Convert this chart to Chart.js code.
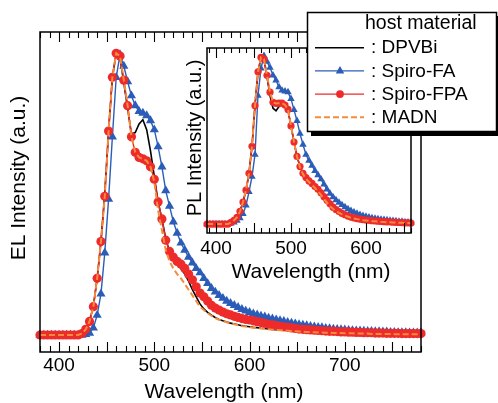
<!DOCTYPE html>
<html>
<head>
<meta charset="utf-8">
<script src="https://cdn.jsdelivr.net/npm/chart.js@4"></script>
<style>
html, body { margin: 0; padding: 0; background: #fff; overflow: hidden; }
#wrap { position: relative; width: 498px; height: 403px; }
canvas, svg { position: absolute; }
#main { left: 0; top: 0; }
#inset { left: 180px; top: 30px; }
#legend { left: 0; top: 0; font-family: "Liberation Sans", Arial, sans-serif; }
</style>
</head>
<body>
<div id="wrap">
  <canvas id="main" width="498" height="403"></canvas>
  <canvas id="inset" width="250" height="260"></canvas>
  <svg id="legend" width="498" height="403"></svg>
</div>
<script>
const hostNames = ['DPVBi', 'Spiro-FA', 'Spiro-FPA', 'MADN']
const elTickLabels = [400, 500, 600, 700]
const plTickLabels = [400, 500, 600]

// EL spectra (main plot)
const elWavelength = [
  380, 384, 388, 392, 396, 400, 404, 408, 412, 416,
  420, 424, 428, 432, 436, 440, 444, 448, 452, 456,
  460, 464, 468, 472, 476, 480, 484, 488, 492, 496,
  500, 504, 508, 512, 516, 520, 524, 528, 532, 536,
  540, 544, 548, 552, 556, 560, 564, 568, 572, 576,
  580, 584, 588, 592, 596, 600, 604, 608, 612, 616,
  620, 624, 628, 632, 636, 640, 644, 648, 652, 656,
  660, 664, 668, 672, 676, 680, 684, 688, 692, 696,
  700, 704, 708, 712, 716, 720, 724, 728, 732, 736,
  740, 744, 748, 752, 756, 760, 764, 768, 772, 776,
  780
]
const elDPVBi = [
  0, 0, 0, 0, 0, 0, 0, 0, 0, 0,
  0, 0.005, 0.02, 0.05, 0.10, 0.20, 0.33, 0.50, 0.72, 0.91,
  0.995, 0.98, 0.89, 0.80, 0.71, 0.715, 0.745, 0.76, 0.725, 0.65,
  0.56, 0.47, 0.41, 0.34, 0.295, 0.27, 0.25, 0.235, 0.215, 0.19,
  0.16, 0.135, 0.11, 0.092, 0.08, 0.07, 0.062, 0.055, 0.05, 0.046,
  0.042, 0.039, 0.036, 0.033, 0.031, 0.029, 0.027, 0.026, 0.024, 0.023,
  0.021, 0.02, 0.019, 0.018, 0.017, 0.016, 0.015, 0.014, 0.013, 0.012,
  0.012, 0.011, 0.01, 0.01, 0.009, 0.009, 0.008, 0.008, 0.007, 0.007,
  0.007, 0.006, 0.006, 0.006, 0.005, 0.005, 0.005, 0.005, 0.004, 0.004,
  0.004, 0.004, 0.004, 0.004, 0.003, 0.003, 0.003, 0.003, 0.003, 0.003,
  0.003
]
const elSpiroFA = [
  0, 0, 0, 0, 0, 0, 0, 0, 0, 0,
  0, 0, 0.002, 0.007, 0.025, 0.07, 0.145, 0.29, 0.48, 0.70,
  0.91, 0.99, 0.95, 0.895, 0.845, 0.81, 0.79, 0.784, 0.775, 0.757,
  0.725, 0.665, 0.594, 0.51, 0.455, 0.40, 0.36, 0.325, 0.30, 0.275,
  0.255, 0.235, 0.22, 0.20, 0.182, 0.165, 0.152, 0.14, 0.13, 0.12,
  0.112, 0.105, 0.098, 0.091, 0.085, 0.08, 0.075, 0.071, 0.067, 0.064,
  0.06, 0.057, 0.054, 0.051, 0.048, 0.045, 0.042, 0.04, 0.037, 0.035,
  0.033, 0.031, 0.029, 0.027, 0.026, 0.024, 0.023, 0.021, 0.02, 0.019,
  0.018, 0.017, 0.016, 0.015, 0.015, 0.014, 0.013, 0.013, 0.012, 0.012,
  0.011, 0.011, 0.01, 0.01, 0.009, 0.009, 0.009, 0.008, 0.008, 0.008,
  0.008
]
const elSpiroFPA = [
  0, 0, 0, 0, 0, 0, 0, 0, 0, 0,
  0, 0.005, 0.02, 0.048, 0.10, 0.20, 0.33, 0.49, 0.72, 0.91,
  0.995, 0.985, 0.90, 0.81, 0.70, 0.645, 0.627, 0.622, 0.615, 0.594,
  0.55, 0.47, 0.41, 0.335, 0.295, 0.275, 0.26, 0.25, 0.235, 0.215,
  0.195, 0.17, 0.148, 0.135, 0.12, 0.105, 0.095, 0.088, 0.081, 0.075,
  0.071, 0.066, 0.062, 0.058, 0.055, 0.053, 0.05, 0.047, 0.044, 0.041,
  0.038, 0.036, 0.033, 0.031, 0.029, 0.027, 0.025, 0.023, 0.021, 0.02,
  0.019, 0.018, 0.017, 0.016, 0.015, 0.014, 0.013, 0.013, 0.012, 0.011,
  0.011, 0.01, 0.01, 0.009, 0.009, 0.008, 0.008, 0.008, 0.007, 0.007,
  0.007, 0.006, 0.006, 0.006, 0.006, 0.005, 0.005, 0.005, 0.005, 0.005,
  0.005
]
const elMADN = [
  0, 0, 0, 0, 0, 0, 0, 0, 0, 0,
  0, 0.005, 0.02, 0.048, 0.10, 0.20, 0.33, 0.49, 0.72, 0.91,
  0.995, 0.985, 0.90, 0.81, 0.70, 0.645, 0.627, 0.622, 0.615, 0.594,
  0.54, 0.44, 0.37, 0.30, 0.26, 0.235, 0.215, 0.20, 0.18, 0.16,
  0.14, 0.12, 0.10, 0.088, 0.077, 0.068, 0.06, 0.054, 0.049, 0.045,
  0.041, 0.038, 0.035, 0.032, 0.03, 0.028, 0.026, 0.025, 0.023, 0.022,
  0.02, 0.019, 0.018, 0.017, 0.016, 0.015, 0.014, 0.013, 0.012, 0.012,
  0.011, 0.01, 0.01, 0.009, 0.009, 0.008, 0.008, 0.007, 0.007, 0.007,
  0.006, 0.006, 0.006, 0.005, 0.005, 0.005, 0.005, 0.004, 0.004, 0.004,
  0.004, 0.004, 0.004, 0.003, 0.003, 0.003, 0.003, 0.003, 0.003, 0.003,
  0.003
]

// PL spectra (inset)
const plWavelength = [
  388, 392, 396, 400, 404, 408, 412, 416, 420, 424,
  428, 432, 436, 440, 444, 448, 452, 456, 460, 464,
  468, 472, 476, 480, 484, 488, 492, 496, 500, 504,
  508, 512, 516, 520, 524, 528, 532, 536, 540, 544,
  548, 552, 556, 560, 564, 568, 572, 576, 580, 584,
  588, 592, 596, 600, 604, 608, 612, 616, 620, 624,
  628, 632, 636, 640, 644, 648, 652, 656, 660
]
const plDPVBi = [
  0, 0, 0, 0, 0, 0, 0, 0, 0.01, 0.022,
  0.04, 0.075, 0.13, 0.20, 0.30, 0.46, 0.70, 0.90, 0.985, 0.975,
  0.87, 0.76, 0.685, 0.67, 0.695, 0.712, 0.70, 0.67, 0.58, 0.485,
  0.40, 0.34, 0.30, 0.272, 0.25, 0.235, 0.217, 0.198, 0.178, 0.155,
  0.132, 0.112, 0.095, 0.081, 0.07, 0.06, 0.052, 0.045, 0.039, 0.034,
  0.03, 0.027, 0.024, 0.022, 0.02, 0.018, 0.016, 0.015, 0.013, 0.012,
  0.011, 0.01, 0.009, 0.009, 0.008, 0.007, 0.006, 0.006, 0.005
]
const plSpiroFA = [
  0, 0, 0, 0, 0, 0, 0, 0, 0.004, 0.01,
  0.02, 0.035, 0.06, 0.11, 0.19, 0.28, 0.41, 0.76, 0.92, 0.995,
  0.96, 0.925, 0.88, 0.85, 0.81, 0.79, 0.785, 0.78, 0.74, 0.675,
  0.61, 0.535, 0.47, 0.41, 0.375, 0.345, 0.315, 0.29, 0.265, 0.235,
  0.205, 0.18, 0.16, 0.142, 0.127, 0.113, 0.10, 0.088, 0.078, 0.07,
  0.062, 0.055, 0.049, 0.044, 0.04, 0.036, 0.033, 0.03, 0.027, 0.025,
  0.023, 0.021, 0.019, 0.017, 0.015, 0.014, 0.012, 0.011, 0.01
]
const plSpiroFPA = [
  0, 0, 0, 0, 0, 0, 0, 0, 0.01, 0.022,
  0.04, 0.075, 0.13, 0.20, 0.30, 0.46, 0.70, 0.90, 0.985, 0.975,
  0.88, 0.78, 0.72, 0.713, 0.715, 0.715, 0.704, 0.678, 0.58, 0.485,
  0.40, 0.34, 0.30, 0.275, 0.255, 0.24, 0.222, 0.205, 0.185, 0.162,
  0.14, 0.12, 0.10, 0.086, 0.074, 0.063, 0.055, 0.047, 0.041, 0.036,
  0.032, 0.029, 0.026, 0.024, 0.022, 0.02, 0.018, 0.017, 0.015, 0.014,
  0.013, 0.012, 0.011, 0.01, 0.009, 0.008, 0.007, 0.007, 0.006
]
const plMADN = [
  0, 0, 0, 0, 0, 0, 0, 0, 0.01, 0.022,
  0.04, 0.075, 0.13, 0.20, 0.30, 0.46, 0.70, 0.90, 0.985, 0.975,
  0.88, 0.78, 0.72, 0.713, 0.715, 0.715, 0.704, 0.678, 0.58, 0.485,
  0.40, 0.335, 0.295, 0.268, 0.248, 0.232, 0.213, 0.193, 0.172, 0.148,
  0.126, 0.106, 0.09, 0.077, 0.066, 0.057, 0.049, 0.043, 0.037, 0.033,
  0.029, 0.026, 0.023, 0.021, 0.019, 0.017, 0.016, 0.015, 0.013, 0.012,
  0.011, 0.01, 0.009, 0.009, 0.008, 0.007, 0.006, 0.006, 0.005
]

const colors = ['#000000', '#2b5cb8', '#ee2b2b', '#f58c3c']
const fontFamily = '"Liberation Sans", Arial, sans-serif'

function pts(xs, ys) {
  return xs.map((x, i) => ({ x: x, y: ys[i] }))
}

function makeSets(xs, series, r) {
  return [
    { label: hostNames[0], data: pts(xs, series[0]), borderColor: colors[0], borderWidth: 1.6, pointRadius: 0, order: 2 },
    { label: hostNames[1], data: pts(xs, series[1]), borderColor: colors[1], backgroundColor: colors[1], borderWidth: 1.4,
      pointStyle: 'triangle', pointRadius: r + 0.7, pointBorderWidth: 0, order: 3 },
    { label: hostNames[2], data: pts(xs, series[2]), borderColor: colors[2], backgroundColor: colors[2], borderWidth: 1.4,
      pointStyle: 'circle', pointRadius: r, pointBorderWidth: 0, order: 1 },
    { label: hostNames[3], data: pts(xs, series[3]), borderColor: colors[3], borderWidth: 2, borderDash: [6, 3],
      pointRadius: 0, order: 0 }
  ].map(d => Object.assign(d, { clip: 6 }))
}

// frame, inward ticks and axis titles
const framePlugin = {
  id: 'frame',
  beforeDraw(chart) {
    const { ctx, chartArea: a } = chart
    ctx.save()
    ctx.fillStyle = '#fff'
    ctx.fillRect(a.left, a.top, a.right - a.left, a.bottom - a.top)
    ctx.restore()
  },
  afterDraw(chart, args, o) {
    const { ctx, chartArea: a } = chart
    const x = chart.scales.x
    ctx.save()
    ctx.strokeStyle = '#000'
    ctx.lineWidth = 1.5
    ctx.strokeRect(a.left, a.top, a.right - a.left, a.bottom - a.top)
    ctx.lineWidth = 1.1
    ctx.beginPath()
    for (let v = o.from; v <= o.to; v += 10) {
      const px = Math.round(x.getPixelForValue(v)) + 0.5
      const len = v % 50 === 0 ? o.major : o.minor
      ctx.moveTo(px, a.bottom); ctx.lineTo(px, a.bottom - len)
      ctx.moveTo(px, a.top); ctx.lineTo(px, a.top + len)
    }
    ctx.stroke()
    ctx.fillStyle = '#000'
    ctx.textAlign = 'center'
    ctx.textBaseline = 'middle'
    ctx.font = o.xSize + 'px ' + fontFamily
    ctx.fillText(o.xText, o.xPos[0], o.xPos[1])
    ctx.translate(o.yPos[0], o.yPos[1])
    ctx.rotate(-Math.PI / 2)
    ctx.font = o.ySize + 'px ' + fontFamily
    ctx.fillText(o.yText, 0, 0)
    ctx.restore()
  }
}

function axisX(min, max, labels, height, pad) {
  return {
    type: 'linear', min: min, max: max,
    afterBuildTicks: s => { s.ticks = labels.map(v => ({ value: v })) },
    afterFit: s => { s.height = height },
    ticks: { color: '#000', font: { family: fontFamily, size: 19 }, padding: pad, maxRotation: 0, autoSkip: false },
    grid: { display: false, drawTicks: false },
    border: { display: false }
  }
}

new Chart(document.getElementById('main'), {
  type: 'line',
  data: { datasets: makeSets(elWavelength, [elDPVBi, elSpiroFA, elSpiroFPA, elMADN], 4.6) },
  options: {
    responsive: false,
    animation: false,
    layout: { padding: { left: 40, right: 77, top: 32, bottom: 0 } },
    scales: {
      x: axisX(380, 780, elTickLabels, 51, 2),
      y: { display: false, min: -0.06, max: 1.07 }
    },
    plugins: {
      legend: { display: false },
      tooltip: { enabled: false },
      frame: { from: 380, to: 780, major: 10, minor: 6,
        xText: 'Wavelength (nm)', xSize: 21, xPos: [224, 392],
        yText: 'EL Intensity (a.u.)', ySize: 21, yPos: [19, 178] }
    }
  },
  plugins: [framePlugin]
})

new Chart(document.getElementById('inset'), {
  type: 'line',
  data: { datasets: makeSets(plWavelength, [plDPVBi, plSpiroFA, plSpiroFPA, plMADN], 3.6) },
  options: {
    responsive: false,
    animation: false,
    layout: { padding: { left: 27, right: 19, top: 18, bottom: 0 } },
    scales: {
      x: axisX(388, 660, plTickLabels, 57, 4),
      y: { display: false, min: -0.053, max: 1.041 }
    },
    plugins: {
      legend: { display: false },
      tooltip: { enabled: false },
      frame: { from: 390, to: 660, major: 10, minor: 5,
        xText: 'Wavelength (nm)', xSize: 21, xPos: [131, 242],
        yText: 'PL Intensity (a.u.)', ySize: 20, yPos: [15, 108] }
    }
  },
  plugins: [framePlugin]
})

// legend box with drop shadow
let svg = '<rect x="311" y="16" width="189" height="120" fill="#000"/>'
svg += '<rect x="307.5" y="12.5" width="189" height="119" fill="#fff" stroke="#000" stroke-width="1.5"/>'
svg += '<text x="365" y="29" font-size="19.5">host material</text>'
hostNames.forEach((name, i) => {
  const y = 47.7 + i * 23.2
  const dash = i === 3 ? ' stroke-dasharray="6,3"' : ''
  const w = i === 3 ? 2 : (i === 0 ? 1.6 : 1.4)
  svg += `<line x1="315" y1="${y}" x2="364" y2="${y}" stroke="${colors[i]}" stroke-width="${w}"${dash}/>`
  if (i === 1) svg += `<polygon points="340,${y - 4.8} 335.8,${y + 2.6} 344.2,${y + 2.6}" fill="${colors[i]}"/>`
  if (i === 2) svg += `<circle cx="340" cy="${y}" r="3.9" fill="${colors[i]}"/>`
  svg += `<text x="371" y="${y + 5.7}" font-size="19">: ${name}</text>`
})
document.getElementById('legend').innerHTML = svg
</script>
</body>
</html>
